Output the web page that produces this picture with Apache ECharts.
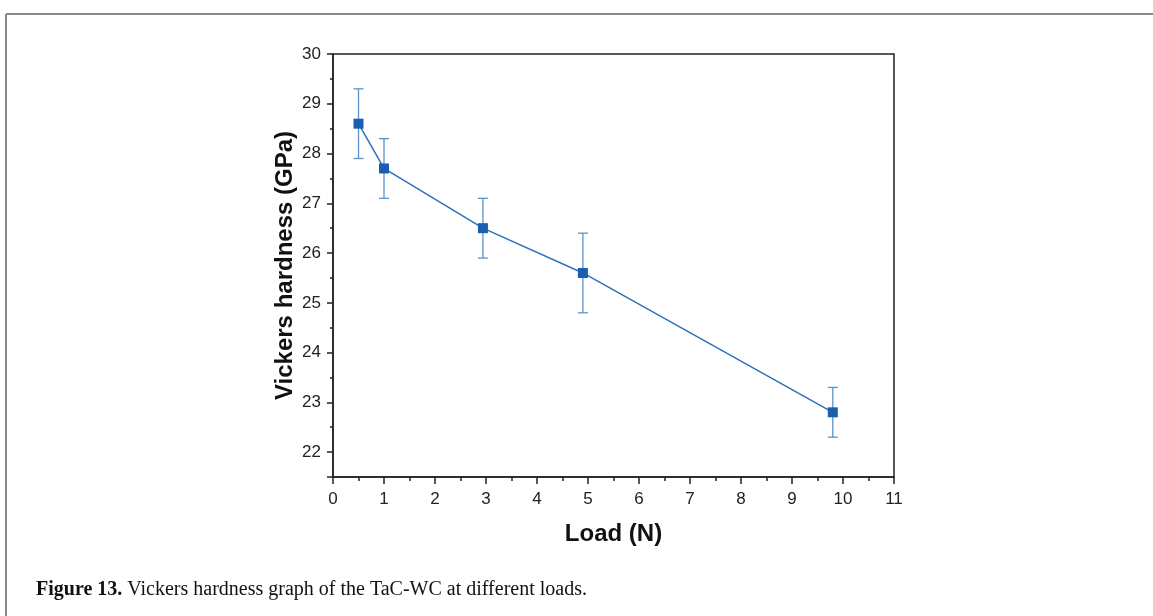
<!DOCTYPE html>
<html>
<head>
<meta charset="utf-8">
<script src="https://cdn.jsdelivr.net/npm/echarts@6/dist/echarts.min.js"></script>
<style>
html,body{margin:0;padding:0;background:#fff;}
#chart{width:1153px;height:616px;}
</style>
</head>
<body>
<div id="chart"></div>
<script>
const loads = [0.5, 1.0, 2.94, 4.9, 9.8];
const hardness = [28.6, 27.7, 26.5, 25.6, 22.8];
const errLow = [27.9, 27.1, 25.9, 24.8, 22.3];
const errHigh = [29.3, 28.3, 27.1, 26.4, 23.3];
const xTitle = 'Load (N)';
const yTitle = 'Vickers hardness (GPa)';
const caption = 'Vickers hardness graph of the TaC-WC at different loads.';
const captionLabel = 'Figure 13.';

const lineData = loads.map((x, i) => [x, hardness[i]]);
const errData = loads.map((x, i) => [x, errLow[i], errHigh[i]]);

const chart = echarts.init(document.getElementById('chart'), null, {renderer: 'canvas'});
const axisFont = {fontFamily: 'Liberation Sans, Arial, sans-serif', fontSize: 17, color: '#222'};
const titleFont = {fontFamily: 'Liberation Sans, Arial, sans-serif', fontSize: 24, fontWeight: 'bold', color: '#111'};

chart.setOption({
  backgroundColor: '#fff',
  animation: false,
  grid: {left: 333, right: 259, top: 54, bottom: 139, show: true, borderColor: '#222', borderWidth: 1.5, backgroundColor: 'transparent'},
  xAxis: {
    type: 'value', min: 0, max: 11, interval: 1,
    name: xTitle, nameLocation: 'middle', nameGap: 45,
    nameTextStyle: titleFont,
    axisLine: {show: true, onZero: false, lineStyle: {color: '#222', width: 1.5}},
    axisTick: {show: true, inside: false, length: 7, lineStyle: {color: '#222', width: 1.5}},
    minorTick: {show: true, splitNumber: 2, length: 4, lineStyle: {color: '#222', width: 1.5}},
    axisLabel: Object.assign({margin: 14}, axisFont),
    splitLine: {show: false}
  },
  yAxis: [{
    type: 'value', min: 21.5, max: 30, interval: 0.5,
    axisLine: {show: true, onZero: false, lineStyle: {color: '#222', width: 1.5}},
    axisTick: {show: true, length: 3, lineStyle: {color: '#222', width: 1.5}},
    axisLabel: {show: false},
    splitLine: {show: false}
  }, {
    type: 'value', min: 21.5, max: 30, splitNumber: 8, position: 'left',
    name: yTitle, nameLocation: 'middle', nameGap: 36,
    nameTextStyle: titleFont,
    axisLine: {show: false},
    axisTick: {show: true, length: 6, lineStyle: {color: '#222', width: 1.5}},
    axisLabel: Object.assign({margin: 12, formatter: v => (Math.abs(v - Math.round(v)) < 1e-6 ? String(Math.round(v)) : '')}, axisFont),
    splitLine: {show: false}
  }],
  series: [{
    type: 'custom',
    yAxisIndex: 0,
    data: errData,
    renderItem: function (params, api) {
      const x = api.value(0);
      const lo = api.coord([x, api.value(1)]);
      const hi = api.coord([x, api.value(2)]);
      const cap = 5;
      const style = {stroke: '#5b93c9', lineWidth: 1.3};
      return {type: 'group', children: [
        {type: 'line', shape: {x1: lo[0], y1: lo[1], x2: hi[0], y2: hi[1]}, style: style},
        {type: 'line', shape: {x1: lo[0] - cap, y1: lo[1], x2: lo[0] + cap, y2: lo[1]}, style: style},
        {type: 'line', shape: {x1: hi[0] - cap, y1: hi[1], x2: hi[0] + cap, y2: hi[1]}, style: style}
      ]};
    },
    z: 2
  }, {
    type: 'line',
    yAxisIndex: 0,
    data: lineData,
    symbol: 'rect', symbolSize: 10,
    lineStyle: {color: '#2a72bb', width: 1.5},
    itemStyle: {color: '#1a5fae'},
    z: 3
  }],
  graphic: [
    {type: 'line', shape: {x1: 6, y1: 14, x2: 1153, y2: 14}, style: {stroke: '#8a8a8a', lineWidth: 2}},
    {type: 'line', shape: {x1: 6, y1: 14, x2: 6, y2: 616}, style: {stroke: '#8a8a8a', lineWidth: 2}},
    {type: 'text', left: 36, top: 580, style: {
      text: '{b|' + captionLabel + '} ' + caption,
      font: '20px "Liberation Serif", "Times New Roman", serif', fill: '#111',
      rich: {b: {fontFamily: '"Liberation Serif", "Times New Roman", serif', fontSize: 20, fontWeight: 'bold', fill: '#111'}}
    }}
  ]
});
</script>
</body>
</html>
